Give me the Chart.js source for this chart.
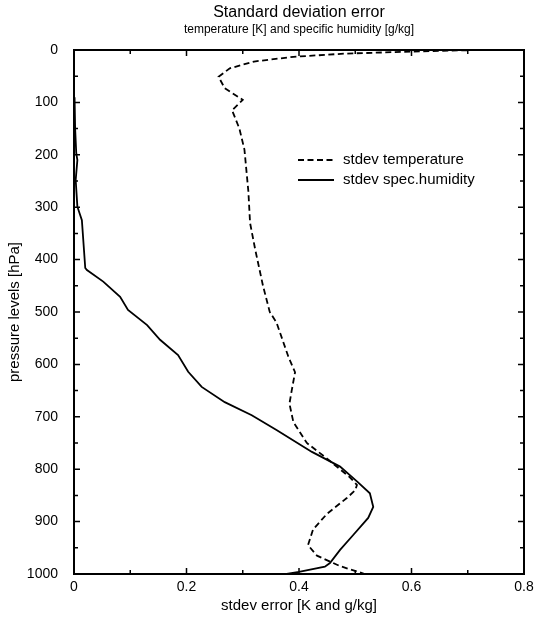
<!DOCTYPE html>
<html>
<head>
<meta charset="utf-8">
<script src="https://cdn.jsdelivr.net/npm/chart.js@4.4.1/dist/chart.umd.min.js"></script>
<style>
  html, body { margin: 0; padding: 0; background: #fff; }
  #wrap { width: 534px; height: 617px; }
</style>
</head>
<body>
<div id="wrap"><canvas id="chart" width="534" height="617"></canvas></div>
<script>
// pressure levels (hPa) and stdev values
const tempLevels = [0, 3, 7, 13, 22, 35, 51, 73, 95, 115, 150, 190, 270, 330, 380, 450, 500, 520, 585, 615, 650, 675, 710, 750, 780, 815, 830, 840, 855, 885, 915, 945, 965, 985, 1000];
const tempStdev = [0.716, 0.60, 0.48, 0.39, 0.32, 0.277, 0.257, 0.268, 0.30, 0.281, 0.294, 0.303, 0.31, 0.313, 0.322, 0.336, 0.348, 0.36, 0.381, 0.393, 0.387, 0.383, 0.39, 0.414, 0.45, 0.49, 0.503, 0.50, 0.485, 0.45, 0.425, 0.416, 0.432, 0.473, 0.517];

const humLevels = [90, 150, 197, 210, 248, 299, 325, 416, 420, 442, 471, 496, 525, 553, 582, 614, 643, 672, 697, 725, 767, 795, 825, 846, 872, 893, 926, 954, 979, 986, 996, 1000];
const humStdev = [0.001, 0.002, 0.004, 0.006, 0.003, 0.006, 0.014, 0.02, 0.023, 0.052, 0.082, 0.096, 0.13, 0.153, 0.185, 0.203, 0.227, 0.268, 0.316, 0.36, 0.423, 0.473, 0.505, 0.526, 0.532, 0.523, 0.496, 0.473, 0.455, 0.446, 0.40, 0.378];

const seriesLabels = ['stdev temperature', 'stdev spec.humidity'];

const FONT = '"Liberation Sans", Arial, Helvetica, sans-serif';

function toPoints(levels, vals) {
    return levels.map((p, i) => ({ x: vals[i], y: p }));
}

// frame, inward ticks on all four sides, and the legend inside the plot
const frameTicks = {
    id: 'frameTicks',
    afterDatasetsDraw(chart) {
        const ctx = chart.ctx;
        const a = chart.chartArea;
        const xs = chart.scales.x, ys = chart.scales.y;
        ctx.save();
        ctx.strokeStyle = '#000';
        ctx.lineWidth = 2;
        ctx.strokeRect(a.left, a.top, a.right - a.left, a.bottom - a.top);

        ctx.lineWidth = 1.5;
        ctx.beginPath();
        ys.ticks.forEach(t => {
            const py = ys.getPixelForValue(t.value);
            const len = t.value % 100 === 0 ? 6 : 4;
            ctx.moveTo(a.left, py); ctx.lineTo(a.left + len, py);
            ctx.moveTo(a.right, py); ctx.lineTo(a.right - len, py);
        });
        xs.ticks.forEach(t => {
            const px = xs.getPixelForValue(t.value);
            const len = Math.round(t.value * 10) % 2 === 0 ? 6 : 4;
            ctx.moveTo(px, a.bottom); ctx.lineTo(px, a.bottom - len);
            ctx.moveTo(px, a.top); ctx.lineTo(px, a.top + len);
        });
        ctx.stroke();

        // legend
        ctx.font = '15px ' + FONT;
        ctx.fillStyle = '#000';
        ctx.textBaseline = 'middle';
        chart.data.datasets.forEach((ds, i) => {
            const y = a.top + 110 + i * 20;
            const x0 = a.left + 224;
            ctx.beginPath();
            ctx.lineWidth = ds.borderWidth;
            ctx.setLineDash(ds.borderDash || []);
            ctx.moveTo(x0, y); ctx.lineTo(x0 + 36, y);
            ctx.stroke();
            ctx.setLineDash([]);
            ctx.fillText(ds.label, x0 + 45, y);
        });
        ctx.restore();
    }
};

new Chart(document.getElementById('chart'), {
    type: 'line',
    data: {
        datasets: [
            { label: seriesLabels[0], data: toPoints(tempLevels, tempStdev), borderColor: '#000', borderWidth: 1.8, borderDash: [6, 3.5], pointRadius: 0, tension: 0, fill: false },
            { label: seriesLabels[1], data: toPoints(humLevels, humStdev), borderColor: '#000', borderWidth: 1.8, pointRadius: 0, tension: 0, fill: false }
        ]
    },
    options: {
        responsive: false,
        animation: false,
        layout: { padding: { left: 0, right: 10, top: 0, bottom: 0 } },
        plugins: {
            legend: { display: false },
            tooltip: { enabled: false },
            title: {
                display: true, fullSize: false, text: 'Standard deviation error', color: '#000',
                font: { family: FONT, size: 16, weight: 'normal' },
                padding: { top: 3.4, bottom: 0.2 }
            },
            subtitle: {
                display: true, fullSize: false, text: 'temperature [K] and specific humidity [g/kg]', color: '#000',
                font: { family: FONT, size: 12, weight: 'normal' },
                padding: { top: 0, bottom: 12.8 }
            }
        },
        scales: {
            x: {
                type: 'linear', min: 0, max: 0.8,
                grid: { display: false },
                border: { display: false },
                ticks: {
                    stepSize: 0.1, autoSkip: false, maxRotation: 0, color: '#000', padding: -3,
                    font: { family: FONT, size: 14 },
                    callback: v => Math.round(v * 10) % 2 === 0 ? String(Math.round(v * 10) / 10) : ''
                },
                title: {
                    display: true, text: 'stdev error [K and g/kg]', color: '#000',
                    font: { family: FONT, size: 15 }, padding: { top: 0, bottom: 2 }
                },
                afterFit: s => { s.height = 43; }
            },
            y: {
                type: 'linear', min: 0, max: 1000, reverse: true,
                grid: { display: false },
                border: { display: false },
                ticks: {
                    stepSize: 50, autoSkip: false, color: '#000', padding: 8,
                    font: { family: FONT, size: 14 },
                    callback: v => v % 100 === 0 ? String(v) : ''
                },
                title: {
                    display: true, text: 'pressure levels [hPa]', color: '#000',
                    font: { family: FONT, size: 15 }, padding: { top: 6, bottom: 6 }
                },
                afterFit: s => { s.width = 74; }
            }
        }
    },
    plugins: [frameTicks]
});
</script>
</body>
</html>
